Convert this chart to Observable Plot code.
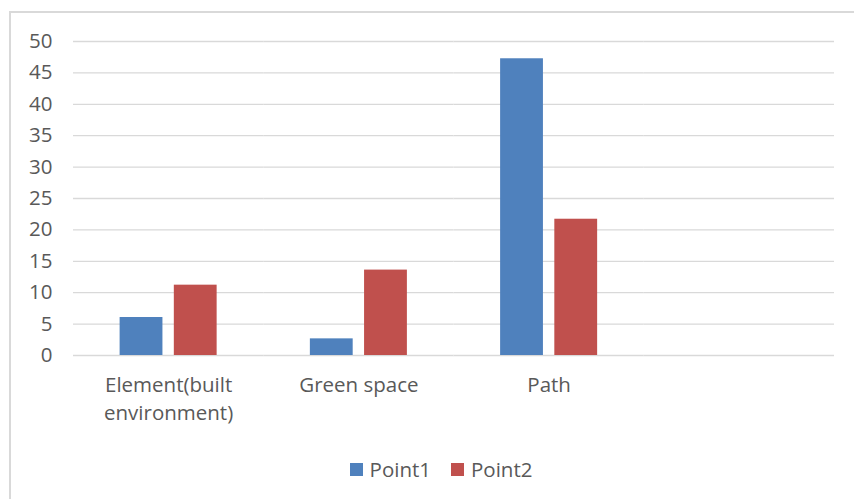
<!DOCTYPE html>
<html>
<head>
<meta charset="utf-8">
<script src="https://cdn.jsdelivr.net/npm/d3@7"></script>
<script src="https://cdn.jsdelivr.net/npm/@observablehq/plot@0.6"></script>
<style>
  html, body { margin: 0; padding: 0; background: #fff; }
  body { width: 854px; height: 499px; position: relative; overflow: hidden;
         font-family: "Open Sans", "Noto Sans", sans-serif; color: #595959; }
  #frame { position: absolute; left: 9px; top: 11px; width: 900px; height: 600px;
           border: 2px solid #d9d9d9; box-sizing: border-box; }
  #chart { position: absolute; left: 0; top: 0; }
  #legend { position: absolute; left: 0; top: 455px; width: 882px; display: flex;
            justify-content: center; gap: 20px; font-size: 20.5px; line-height: 28px; }
  #legend .item { display: flex; align-items: center; gap: 7px; }
  #legend .sw { width: 13px; height: 13px; display: inline-block; }
</style>
</head>
<body>
<div id="frame"></div>
<div id="chart"></div>
<div id="legend"></div>
<script>
// Categories along the horizontal axis (the last slot is left empty)
const categories = ["Element(built environment)", "Green space", "Path", ""];
const categoryLabels = ["Element(built\nenvironment)", "Green space", "Path", ""];
const series = ["Point1", "Point2"];
const point1 = [6.05, 2.65, 47.25, null];
const point2 = [11.2, 13.6, 21.7, null];
const colors = ["#4F81BD", "#C0504D"];
const yTicks = [0, 5, 10, 15, 20, 25, 30, 35, 40, 45, 50];

const values = [point1, point2];
const rows = [];
categories.forEach((c, i) => {
  series.forEach((s, j) => rows.push({category: c, series: s, value: values[j][i]}));
});

const labelOf = new Map(categories.map((c, i) => [c, categoryLabels[i]]));

const chart = Plot.plot({
  width: 854,
  height: 445,
  marginLeft: 73,
  marginRight: 20,
  marginTop: 41,
  marginBottom: 90,
  style: { fontFamily: "'Open Sans', 'Noto Sans', sans-serif", color: "#595959", background: "transparent" },
  fx: { domain: categories, padding: 0, round: false, label: null },
  x: { domain: series, paddingInner: 0.21, paddingOuter: 0.86, round: false, axis: null },
  y: { domain: [0, 50], axis: null, label: null },
  color: { domain: series, range: colors },
  marks: [
    Plot.gridY(yTicks, { stroke: "#d9d9d9", strokeOpacity: 1, strokeWidth: 1.3 }),
    Plot.barY(rows, { fx: "category", x: "series", y: "value", fill: "series" }),
    Plot.axisY(yTicks, { tickSize: 0, tickPadding: 21, fontSize: 20.5, fill: "#595959", label: null }),
    Plot.axisFx({ anchor: "bottom", tickSize: 0, tickPadding: 16, fontSize: 20.5, fill: "#595959",
                  lineHeight: 1.38, label: null, tickFormat: (d) => labelOf.get(d) })
  ]
});
document.getElementById("chart").appendChild(chart);

// Legend built from the same series and colours
const legend = document.getElementById("legend");
series.forEach((s, i) => {
  const item = document.createElement("span");
  item.className = "item";
  const sw = document.createElement("span");
  sw.className = "sw";
  sw.style.background = colors[i];
  item.appendChild(sw);
  item.appendChild(document.createTextNode(s));
  legend.appendChild(item);
});
</script>
</body>
</html>
